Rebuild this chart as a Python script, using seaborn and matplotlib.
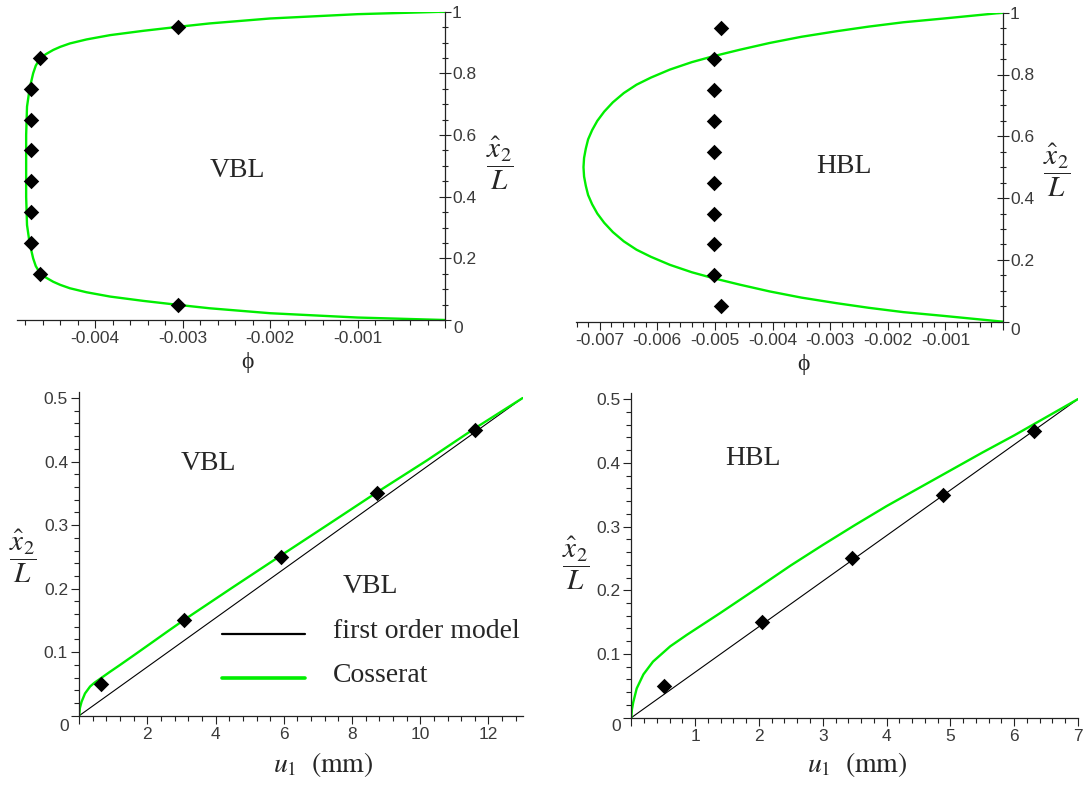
import matplotlib
matplotlib.use("Agg")
import matplotlib.pyplot as plt
import seaborn as sns
from matplotlib.lines import Line2D
from matplotlib.legend_handler import HandlerLine2D
from matplotlib.ticker import MultipleLocator, FuncFormatter

# ---------------- data ----------------
# top-left: VBL, phi along the height x2/L
vbl_s = [0, 0.008, 0.022, 0.038, 0.049, 0.062, 0.076, 0.09, 0.103, 0.114, 0.124,
         0.137, 0.151, 0.175, 0.20, 0.249, 0.308, 0.40, 0.50, 0.60, 0.692, 0.751,
         0.80, 0.825, 0.849, 0.863, 0.876, 0.886, 0.897, 0.91, 0.924, 0.938, 0.951,
         0.962, 0.978, 0.992, 1.0]
vbl_phi = [0, -0.001, -0.002, -0.00269, -0.00305, -0.00345, -0.00383, -0.00410,
           -0.00429, -0.00440, -0.00448, -0.00456, -0.00463, -0.00468, -0.00471,
           -0.00475, -0.00478, -0.00479, -0.00479, -0.00479, -0.00478, -0.00475,
           -0.00471, -0.00468, -0.00463, -0.00456, -0.00448, -0.00440, -0.00429,
           -0.00410, -0.00383, -0.00345, -0.00305, -0.00269, -0.002, -0.001, 0]
vbl_mark_s = [0.05, 0.15, 0.25, 0.35, 0.45, 0.55, 0.65, 0.75, 0.85, 0.95]
vbl_mark_phi = [-0.00305, -0.00463, -0.00474, -0.00474, -0.00474, -0.00474,
                -0.00474, -0.00474, -0.00463, -0.00305]

# top-right: HBL
hbl_s = [0, 0.019, 0.031, 0.045, 0.06, 0.078, 0.098, 0.12, 0.141, 0.16, 0.184,
         0.21, 0.233, 0.26, 0.29, 0.32, 0.35, 0.38, 0.41, 0.44, 0.47, 0.5,
         0.53, 0.56, 0.59, 0.62, 0.65, 0.68, 0.71, 0.74, 0.767, 0.79, 0.816, 0.84,
         0.859, 0.88, 0.902, 0.922, 0.94, 0.955, 0.969, 0.981, 1.0]
hbl_phi = [0, -0.00104, -0.00173, -0.00233, -0.00289, -0.00350, -0.00405, -0.00457,
           -0.00503, -0.00540, -0.00578, -0.00611, -0.00636, -0.00658, -0.00677,
           -0.00692, -0.00704, -0.00713, -0.00720, -0.00724, -0.00727, -0.00728,
           -0.00727, -0.00724, -0.00720, -0.00713, -0.00704, -0.00692, -0.00677,
           -0.00658, -0.00636, -0.00611, -0.00578, -0.00540, -0.00503, -0.00457,
           -0.00405, -0.00350, -0.00289, -0.00233, -0.00173, -0.00104, 0]
hbl_mark_s = [0.05, 0.15, 0.25, 0.35, 0.45, 0.55, 0.65, 0.75, 0.85, 0.95]
hbl_mark_phi = [-0.0049, -0.00502, -0.00502, -0.00502, -0.00502, -0.00502,
                -0.00502, -0.00502, -0.00502, -0.0049]

# bottom-left: VBL, u1 (mm) vs x2/L
vbl_first_u = [0, 13.0]
vbl_first_s = [0, 0.5]
vbl_coss_u = [0, 0.02, 0.07, 0.17, 0.32, 0.45, 0.61, 0.9, 1.2, 1.6, 2.18, 2.6,
              3.08, 4.5, 5.91, 7.3, 8.74, 10.2, 11.59, 13.0]
vbl_coss_s = [0, 0.012, 0.022, 0.035, 0.046, 0.052, 0.058, 0.069, 0.080, 0.095,
              0.117, 0.133, 0.151, 0.202, 0.252, 0.301, 0.352, 0.402, 0.452, 0.5]
vbl_pts_u = [0.63, 3.08, 5.91, 8.74, 11.59]
vbl_pts_s = [0.05, 0.15, 0.25, 0.35, 0.45]

# bottom-right: HBL
hbl_first_u = [0, 7.0]
hbl_first_s = [0, 0.5]
hbl_coss_u = [0, 0.01, 0.03, 0.085, 0.19, 0.34, 0.61, 0.87, 1.39, 2.0, 2.5, 3.0,
              3.5, 4.0, 4.5, 5.0, 5.5, 6.0, 6.5, 7.0]
hbl_coss_s = [0, 0.013, 0.024, 0.046, 0.068, 0.088, 0.112, 0.130, 0.164, 0.205,
              0.239, 0.271, 0.302, 0.332, 0.360, 0.388, 0.416, 0.443, 0.4715, 0.5]
hbl_pts_u = [0.52, 2.05, 3.46, 4.89, 6.31]
hbl_pts_s = [0.05, 0.15, 0.25, 0.35, 0.45]

legend_labels = ["first order model", "Cosserat"]

# ---------------- style ----------------
sns.set_theme(style="ticks")
plt.rcParams["font.family"] = ["Liberation Serif", "DejaVu Serif"]
plt.rcParams["mathtext.fontset"] = "stix"
plt.rcParams["axes.unicode_minus"] = False

GREEN = "#00ee00"
TICKLAB = "#3a3a3a"
TICKFONT = {"family": "Liberation Sans", "size": 12.5}
FRAC = r"$\dfrac{\hat{x}_2}{L}$"
MS = 62

fig = plt.figure(figsize=(10.89, 7.90), dpi=100)
W, H = 1089.0, 790.0


def add_ax(left, top, right, bottom):
    return fig.add_axes([left / W, 1 - bottom / H, (right - left) / W, (bottom - top) / H])


ax1 = add_ax(17.4, 11.7, 445, 320)
ax2 = add_ax(576, 12.7, 1003, 321.7)
ax3 = add_ax(79.2, 391.7, 522.6, 715.7)
ax4 = add_ax(631.3, 392.7, 1078, 717.7)

for ax in (ax1, ax2, ax3, ax4):
    ax.set_facecolor("white")
    ax.grid(False)


def fmt_skip0(v, pos):
    if abs(v) < 1e-12:
        return ""
    return f"{v:g}"


def style_top(ax, xmin, zero_xy):
    ax.set_xlim(xmin, 0)
    ax.set_ylim(0, 1)
    ax.spines["left"].set_visible(False)
    ax.spines["top"].set_visible(False)
    for sp in ("right", "bottom"):
        ax.spines[sp].set_color("#222222")
        ax.spines[sp].set_linewidth(0.9)
    ax.yaxis.tick_right()
    ax.xaxis.set_major_locator(MultipleLocator(0.001))
    ax.xaxis.set_minor_locator(MultipleLocator(0.0002))
    ax.yaxis.set_major_locator(MultipleLocator(0.2))
    ax.yaxis.set_minor_locator(MultipleLocator(0.05))
    ax.xaxis.set_major_formatter(FuncFormatter(fmt_skip0))
    ax.yaxis.set_major_formatter(FuncFormatter(fmt_skip0))
    ax.tick_params(axis="x", which="major", direction="out", length=6, width=0.8,
                   color="#222222", labelcolor=TICKLAB, pad=2)
    ax.tick_params(axis="x", which="minor", direction="out", length=3.5, width=0.8,
                   color="#222222")
    ax.tick_params(axis="y", which="major", direction="inout", length=8, width=0.8,
                   color="#222222", labelcolor=TICKLAB, pad=1)
    ax.tick_params(axis="y", which="minor", direction="inout", length=5, width=0.8,
                   color="#222222")
    for lab in ax.get_xticklabels() + ax.get_yticklabels():
        lab.set_fontfamily(TICKFONT["family"])
        lab.set_fontsize(TICKFONT["size"])
    ax.text(zero_xy[0], zero_xy[1], "0", transform=ax.transAxes, ha="center",
            va="center", color=TICKLAB, fontfamily=TICKFONT["family"],
            fontsize=TICKFONT["size"])
    ax.set_xlabel("\u03d5", fontsize=17)
    ax.set_ylabel(FRAC, fontsize=21, rotation=0)
    ax.yaxis.set_label_position("right")
    ax.yaxis.label.set_verticalalignment("center")
    ax.yaxis.label.set_horizontalalignment("center")


def style_bottom(ax, xmax, xmaj, xmin_step, zero_xy):
    ax.set_xlim(0, xmax)
    ax.set_ylim(0, 0.51)
    ax.spines["right"].set_visible(False)
    ax.spines["top"].set_visible(False)
    for sp in ("left", "bottom"):
        ax.spines[sp].set_color("#222222")
        ax.spines[sp].set_linewidth(0.9)
    ax.xaxis.set_major_locator(MultipleLocator(xmaj))
    ax.xaxis.set_minor_locator(MultipleLocator(xmin_step))
    ax.yaxis.set_major_locator(MultipleLocator(0.1))
    ax.yaxis.set_minor_locator(MultipleLocator(0.02))
    ax.xaxis.set_major_formatter(FuncFormatter(fmt_skip0))
    ax.yaxis.set_major_formatter(FuncFormatter(fmt_skip0))
    ax.tick_params(axis="both", which="major", direction="out", length=6, width=0.8,
                   color="#222222", labelcolor=TICKLAB, pad=2)
    ax.tick_params(axis="both", which="minor", direction="out", length=3.5, width=0.8,
                   color="#222222")
    for lab in ax.get_xticklabels() + ax.get_yticklabels():
        lab.set_fontfamily(TICKFONT["family"])
        lab.set_fontsize(TICKFONT["size"])
    ax.text(zero_xy[0], zero_xy[1], "0", transform=ax.transAxes, ha="center",
            va="center", color=TICKLAB, fontfamily=TICKFONT["family"],
            fontsize=TICKFONT["size"])
    ax.set_xlabel(r"$u_1\ \ (\mathrm{mm})$", fontsize=20)
    ax.set_ylabel(FRAC, fontsize=21, rotation=0, va="center", ha="center")


class LoweredLine(HandlerLine2D):
    """Legend line drawn a little below the text centre, as in the original."""

    def create_artists(self, legend, orig_handle, xdescent, ydescent, width,
                       height, fontsize, trans):
        return super().create_artists(legend, orig_handle, xdescent,
                                      ydescent + 8.5, width, height, fontsize,
                                      trans)


# ---------------- top-left ----------------
sns.lineplot(x=vbl_phi, y=vbl_s, ax=ax1, sort=False, estimator=None, color=GREEN,
             linewidth=1.7)
sns.scatterplot(x=vbl_mark_phi, y=vbl_mark_s, ax=ax1, marker="D", s=MS,
                color="black", linewidth=0, zorder=5)
style_top(ax1, -0.00489, (1.031, -0.027))
ax1.text(0.515, 0.486, "VBL", transform=ax1.transAxes, fontsize=20,
         ha="center", va="center")
ax1.xaxis.set_label_coords(0.537, -0.105)
ax1.yaxis.set_label_coords(1.129, 0.509)

# ---------------- top-right ----------------
sns.lineplot(x=hbl_phi, y=hbl_s, ax=ax2, sort=False, estimator=None, color=GREEN,
             linewidth=1.7)
sns.scatterplot(x=hbl_mark_phi, y=hbl_mark_s, ax=ax2, marker="D", s=MS,
                color="black", linewidth=0, zorder=5)
style_top(ax2, -0.00741, (1.029, -0.027))
ax2.text(0.627, 0.502, "HBL", transform=ax2.transAxes, fontsize=20,
         ha="center", va="center")
ax2.xaxis.set_label_coords(0.533, -0.105)
ax2.yaxis.set_label_coords(1.127, 0.491)

# ---------------- bottom-left ----------------
sns.lineplot(x=vbl_first_u, y=vbl_first_s, ax=ax3, color="black", linewidth=0.8,
             estimator=None, sort=False)
sns.lineplot(x=vbl_coss_u, y=vbl_coss_s, ax=ax3, color=GREEN, linewidth=1.7,
             estimator=None, sort=False)
sns.scatterplot(x=vbl_pts_u, y=vbl_pts_s, ax=ax3, marker="D", s=MS,
                color="black", linewidth=0, zorder=5)
style_bottom(ax3, 13.0, 2, 0.4, (-0.034, -0.034))
ax3.text(0.291, 0.779, "VBL", transform=ax3.transAxes, fontsize=20,
         ha="center", va="center")
ax3.xaxis.set_label_coords(0.55, -0.105)
ax3.yaxis.set_label_coords(-0.128, 0.491)

handles = [Line2D([], [], color="black", linewidth=1.6),
           Line2D([], [], color=GREEN, linewidth=2.6)]
leg = ax3.legend(handles, legend_labels, title="VBL", frameon=False,
                 loc="upper left", bbox_to_anchor=(222 / W, 1 - 574 / H),
                 bbox_transform=fig.transFigure, borderpad=0, borderaxespad=0,
                 handlelength=3.0, handletextpad=1.0, labelspacing=0.68,
                 fontsize=20, title_fontsize=20,
                 handler_map={Line2D: LoweredLine()})
leg._legend_box.sep = 14

# ---------------- bottom-right ----------------
sns.lineplot(x=hbl_first_u, y=hbl_first_s, ax=ax4, color="black", linewidth=0.8,
             estimator=None, sort=False)
sns.lineplot(x=hbl_coss_u, y=hbl_coss_s, ax=ax4, color=GREEN, linewidth=1.7,
             estimator=None, sort=False)
sns.scatterplot(x=hbl_pts_u, y=hbl_pts_s, ax=ax4, marker="D", s=MS,
                color="black", linewidth=0, zorder=5)
style_bottom(ax4, 7.0, 1, 0.2, (-0.034, -0.028))
ax4.text(0.272, 0.798, "HBL", transform=ax4.transAxes, fontsize=20,
         ha="center", va="center")
ax4.xaxis.set_label_coords(0.506, -0.1)
ax4.yaxis.set_label_coords(-0.125, 0.475)

fig.savefig("out.png", dpi=100, facecolor="white")
